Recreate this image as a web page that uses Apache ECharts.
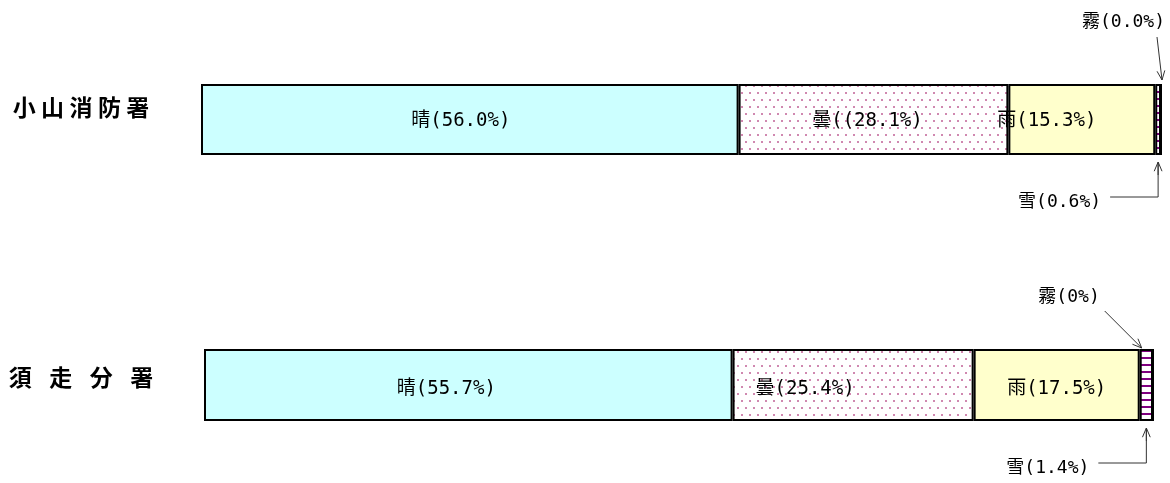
<!DOCTYPE html>
<html>
<head>
<meta charset="utf-8">
<script src="https://cdn.jsdelivr.net/npm/echarts@6/dist/echarts.min.js"></script>
<style>
  html, body { margin: 0; padding: 0; background: #fff; }
  #chart { width: 1170px; height: 483px; }
</style>
</head>
<body>
<div id="chart"></div>
<script>
// ── Data ────────────────────────────────────────────────────────────────
const stations = ['小山消防署', '須 走 分 署'];
const weatherNames = ['晴', '曇', '雨', '雪', '霧'];
const oyamaValues = [56.0, 28.1, 15.3, 0.6, 0.0];
const subashiriValues = [55.7, 25.4, 17.5, 1.4, 0];
const oyamaLabels = ['晴(56.0%)', '曇((28.1%)', '雨(15.3%)', '雪(0.6%)', '霧(0.0%)'];
const subashiriLabels = ['晴(55.7%)', '曇(25.4%)', '雨(17.5%)', '雪(1.4%)', '霧(0%)'];

// ── Styles ──────────────────────────────────────────────────────────────
const LABEL_FONT = '"DejaVu Sans Mono", "Noto Sans CJK JP", monospace';
const TITLE_FONT = '"Noto Sans CJK JP", sans-serif';
const LABEL_SIZE = 19;
const grids = [
  { left: 201, right: 9, top: 84, height: 71, titleShift: 24 },
  { left: 204, right: 17, top: 349, height: 72, titleShift: 15 }
];
// horizontal nudge of the inside labels (px), per station
const labelShift = [[-9, -6, -35], [-22, -48, 0]];
const labelDrop = [2, 4];

function dotPattern() {
  const c = document.createElement('canvas');
  c.width = 8; c.height = 14;
  const ctx = c.getContext('2d');
  ctx.fillStyle = '#fff'; ctx.fillRect(0, 0, 8, 14);
  ctx.fillStyle = '#d088b0';
  ctx.fillRect(1, 1, 2, 2);
  ctx.fillRect(5, 8, 2, 2);
  return c;
}

function stripePattern() {
  const c = document.createElement('canvas');
  c.width = 4; c.height = 7;
  const ctx = c.getContext('2d');
  ctx.fillStyle = '#fff'; ctx.fillRect(0, 0, 4, 7);
  ctx.fillStyle = '#800080'; ctx.fillRect(0, 0, 4, 2);
  return c;
}

const fills = [
  '#ccffff',
  { image: dotPattern(), repeat: 'repeat' },
  '#ffffcc',
  { image: stripePattern(), repeat: 'repeat' },
  '#ffffff'
];

function titleLabel(text, totalWidth) {
  const chars = [...text];
  const w = totalWidth / chars.length;
  const rich = { c: { width: w, align: 'center', fontSize: 23, fontWeight: 'bold', fontFamily: TITLE_FONT, color: '#000' } };
  return { str: chars.map(ch => `{c|${ch}}`).join(''), rich };
}

// ── Build option ────────────────────────────────────────────────────────
const allValues = [oyamaValues, subashiriValues];
const allLabels = [oyamaLabels, subashiriLabels];

const option = {
  animation: false,
  backgroundColor: '#fff',
  grid: grids.map(g => ({ left: g.left, right: g.right, top: g.top, height: g.height })),
  xAxis: grids.map((g, i) => ({
    gridIndex: i, type: 'value', min: 0, max: 100, show: false
  })),
  yAxis: grids.map((g, i) => {
    const t = titleLabel(stations[i], 142);
    return {
      gridIndex: i, type: 'category', data: [stations[i]],
      axisLine: { show: false }, axisTick: { show: false },
      axisLabel: {
        align: 'left', margin: g.left - 10,
        padding: [0, 0, g.titleShift, 0],
        formatter: () => t.str, rich: t.rich
      }
    };
  }),
  series: [],
  graphic: []
};

allValues.forEach((vals, gi) => {
  vals.forEach((v, wi) => {
    option.series.push({
      type: 'bar', name: weatherNames[wi], stack: 'st' + gi,
      xAxisIndex: gi, yAxisIndex: gi,
      barWidth: '100%',
      data: [v],
      itemStyle: { color: fills[wi], borderColor: '#000', borderWidth: 2 },
      label: wi < 3 ? {
        show: true, position: 'inside',
        formatter: allLabels[gi][wi],
        fontFamily: LABEL_FONT, fontSize: LABEL_SIZE, color: '#000',
        offset: [labelShift[gi][wi], labelDrop[gi]]
      } : { show: false }
    });
  });
});

const chart = echarts.init(document.getElementById('chart'));
chart.setOption(option);

// ── Call-out arrows for 雪 / 霧 ─────────────────────────────────────────
function arrow(x1, y1, x2, y2) {
  const ang = Math.atan2(y2 - y1, x2 - x1);
  const len = 10, spread = 0.4;
  const p1 = [x2 - len * Math.cos(ang - spread), y2 - len * Math.sin(ang - spread)];
  const p2 = [x2 - len * Math.cos(ang + spread), y2 - len * Math.sin(ang + spread)];
  const st = { stroke: '#333', lineWidth: 1, fill: null };
  return [
    { type: 'polyline', shape: { points: [[x1, y1], [x2, y2]] }, style: st, silent: true },
    { type: 'polyline', shape: { points: [p1, [x2, y2], p2] }, style: st, silent: true }
  ];
}

function text(str, x, y, align) {
  return {
    type: 'text', x, y, silent: true,
    style: { text: str, fontFamily: LABEL_FONT, fontSize: LABEL_SIZE - 1, fill: '#000', align, verticalAlign: 'middle' }
  };
}

const gfx = [];
allValues.forEach((vals, gi) => {
  const g = grids[gi];
  const px = v => chart.convertToPixel({ xAxisIndex: gi }, v);
  const rainEnd = px(vals[0] + vals[1] + vals[2]);
  const snowEnd = px(vals[0] + vals[1] + vals[2] + vals[3]);
  const top = g.top, bottom = g.top + g.height;
  const snowMid = (rainEnd + snowEnd) / 2;

  // 雪: elbow line from the label up to the bottom of the segment
  const elbowY = bottom + 42;
  gfx.push({ type: 'polyline', silent: true,
    shape: { points: [[snowMid - 48, elbowY], [snowMid, elbowY], [snowMid, bottom + 8]] },
    style: { stroke: '#333', lineWidth: 1, fill: null } });
  gfx.push(...arrow(snowMid, bottom + 20, snowMid, bottom + 7));
  gfx.push(text(allLabels[gi][3], snowMid - 57, elbowY + 5, 'right'));

  // 霧
  if (gi === 0) {
    gfx.push(...arrow(snowEnd - 4, top - 47, snowEnd + 1, top - 4));
    gfx.push(text(allLabels[gi][4], snowEnd + 4, top - 62, 'right'));
  } else {
    gfx.push(...arrow(rainEnd - 35, top - 38, rainEnd + 2, top - 1));
    gfx.push(text(allLabels[gi][4], rainEnd - 40, top - 52, 'right'));
  }
});
chart.setOption({ graphic: gfx });
</script>
</body>
</html>
